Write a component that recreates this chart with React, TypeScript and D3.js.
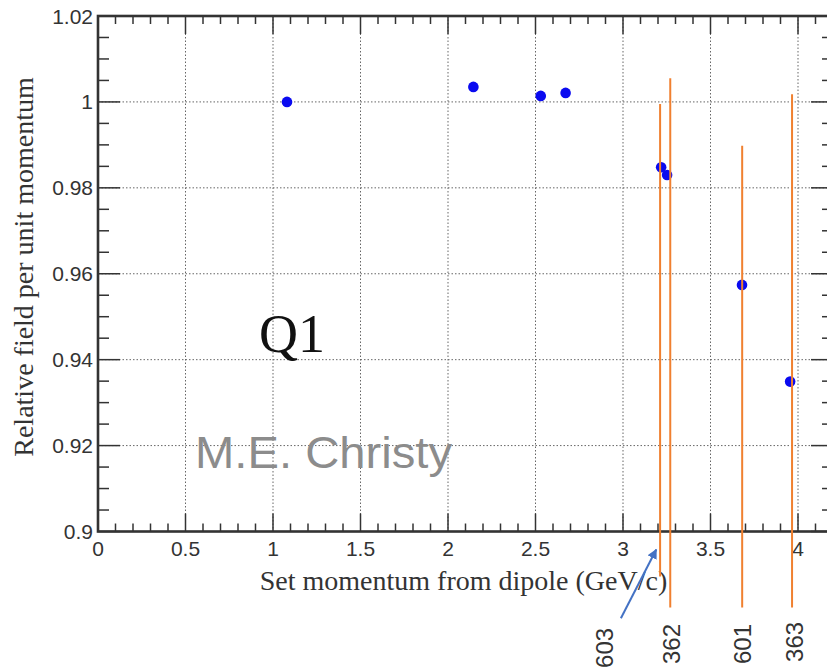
import React from "react";
import * as d3 from "d3";

const momentum = [1.08, 2.145, 2.53, 2.672, 3.218, 3.252, 3.68, 3.955];
const relField = [1.0, 1.0035, 1.0014, 1.0021, 0.9848, 0.983, 0.9574, 0.9349];

const xTicks = [0, 0.5, 1, 1.5, 2, 2.5, 3, 3.5, 4];
const xTickLabels = ["0", "0.5", "1", "1.5", "2", "2.5", "3", "3.5", "4"];
const yTicks = [0.9, 0.92, 0.94, 0.96, 0.98, 1.0, 1.02];
const yTickLabels = ["0.9", "0.92", "0.94", "0.96", "0.98", "1", "1.02"];

const runNames = ["603", "362", "601", "363"];
const runX = [3.212, 3.27, 3.681, 3.966];
const runTop = [0.9995, 1.0055, 0.9898, 1.0018];
const runBottom = [0.8895, 0.8823, 0.8823, 0.8823];
const runLabelX = [2.944, 3.323, 3.731, 4.027];
const runLabelY = [0.8729, 0.8738, 0.8738, 0.8743];

const arrowFrom = [2.988, 0.8798];
const arrowTo = [3.19, 0.8958];

const W = 827;
const H = 670;
const left = 98;
const right = 833;
const top = 16;
const bottom = 531.5;

export default function App() {
  const x = d3.scaleLinear().domain([0, 4.2]).range([left, right]);
  const y = d3.scaleLinear().domain([0.9, 1.02]).range([bottom, top]);

  const xMinor = d3.range(0, 4.2001, 0.1).map((v) => +v.toFixed(2));
  const yMinor = d3.range(0.9, 1.0201, 0.005).map((v) => +v.toFixed(3));
  const isMajorX = (v: number) => Math.abs(v * 2 - Math.round(v * 2)) < 1e-6;
  const isMajorY = (v: number) => Math.abs(v * 50 - Math.round(v * 50)) < 1e-6;

  const axisColor = "#333";
  const gridColor = "#666";

  const ax1 = x(arrowFrom[0]);
  const ay1 = y(arrowFrom[1]);
  const ax2 = x(arrowTo[0]);
  const ay2 = y(arrowTo[1]);

  return (
    <svg
      width={W}
      height={H}
      style={{ position: "absolute", left: 0, top: 0, background: "#fff" }}
    >
      <defs>
        <marker
          id="arr"
          viewBox="0 0 10 10"
          refX="9"
          refY="5"
          markerWidth="5"
          markerHeight="5"
          orient="auto"
        >
          <path d="M0,0 L10,5 L0,10 z" fill="#4472c4" />
        </marker>
      </defs>
      <rect x={0} y={0} width={W} height={H} fill="#fff" />

      {/* grid */}
      {xTicks.slice(1).map((v) => (
        <line
          key={"gx" + v}
          x1={x(v)}
          x2={x(v)}
          y1={top}
          y2={bottom}
          stroke={gridColor}
          strokeWidth={1}
          strokeDasharray="1.5 2"
        />
      ))}
      {yTicks.slice(1, -1).map((v) => (
        <line
          key={"gy" + v}
          x1={left}
          x2={right}
          y1={y(v)}
          y2={y(v)}
          stroke={gridColor}
          strokeWidth={1}
          strokeDasharray="1.5 2"
        />
      ))}

      {/* x ticks bottom & top */}
      {xMinor.map((v) => {
        const len = isMajorX(v) ? 18 : 8;
        return (
          <g key={"xt" + v}>
            <line x1={x(v)} x2={x(v)} y1={bottom} y2={bottom - len} stroke={axisColor} strokeWidth={1.5} />
            <line x1={x(v)} x2={x(v)} y1={top} y2={top + len} stroke={axisColor} strokeWidth={1.5} />
          </g>
        );
      })}
      {/* y ticks left & right */}
      {yMinor.map((v) => {
        const len = isMajorY(v) ? 22 : 11;
        return (
          <g key={"yt" + v}>
            <line x1={left} x2={left + len} y1={y(v)} y2={y(v)} stroke={axisColor} strokeWidth={1.5} />
            <line x1={right} x2={right - len} y1={y(v)} y2={y(v)} stroke={axisColor} strokeWidth={1.5} />
          </g>
        );
      })}

      {/* frame */}
      <rect
        x={left}
        y={top}
        width={right - left}
        height={bottom - top}
        fill="none"
        stroke={axisColor}
        strokeWidth={2.6}
      />

      {/* tick labels */}
      {xTicks.map((v, i) => (
        <text
          key={"xl" + v}
          x={x(v)}
          y={556}
          textAnchor="middle"
          fontFamily="'Liberation Sans', Arial, sans-serif"
          fontSize={21}
          fill="#333"
        >
          {xTickLabels[i]}
        </text>
      ))}
      {yTicks.map((v, i) => (
        <text
          key={"yl" + v}
          x={93}
          y={y(v) + 7.5}
          textAnchor="end"
          fontFamily="'Liberation Sans', Arial, sans-serif"
          fontSize={21}
          fill="#333"
        >
          {yTickLabels[i]}
        </text>
      ))}

      {/* axis titles */}
      <text
        x={463.5}
        y={590}
        textAnchor="middle"
        fontFamily="'Liberation Serif', 'Times New Roman', serif"
        fontSize={28}
        fill="#333"
      >
        Set momentum from dipole (GeV/c)
      </text>
      <text
        transform={`translate(33,267) rotate(-90)`}
        textAnchor="middle"
        fontFamily="'Liberation Serif', 'Times New Roman', serif"
        fontSize={28}
        fill="#333"
      >
        Relative field per unit momentum
      </text>

      {/* data points */}
      {momentum.map((m, i) => (
        <circle key={"p" + i} cx={x(m)} cy={y(relField[i])} r={5.3} fill="#0a0af0" />
      ))}

      {/* annotations */}
      <text
        x={259}
        y={352}
        fontFamily="'Liberation Serif', 'Times New Roman', serif"
        fontSize={54}
        fill="#111"
      >
        Q1
      </text>
      <text
        x={195}
        y={468}
        fontFamily="'Liberation Sans', Arial, sans-serif"
        fontSize={44}
        fill="#8c8c8c"
        textLength={257}
        lengthAdjust="spacingAndGlyphs"
      >
        M.E. Christy
      </text>

      {runX.map((rx, i) => (
        <line
          key={"rl" + i}
          x1={x(rx)}
          x2={x(rx)}
          y1={y(runTop[i])}
          y2={y(runBottom[i])}
          stroke="#f08030"
          strokeWidth={2}
        />
      ))}
      {runNames.map((n, i) => (
        <text
          key={"rn" + i}
          transform={`translate(${x(runLabelX[i])},${y(runLabelY[i])}) rotate(-90)`}
          textAnchor="middle"
          fontFamily="'Liberation Sans', Arial, sans-serif"
          fontSize={24}
          fill="#333"
        >
          {n}
        </text>
      ))}
      <line
        x1={ax1}
        y1={ay1}
        x2={ax2}
        y2={ay2}
        stroke="#4472c4"
        strokeWidth={2}
        markerEnd="url(#arr)"
      />
    </svg>
  );
}
